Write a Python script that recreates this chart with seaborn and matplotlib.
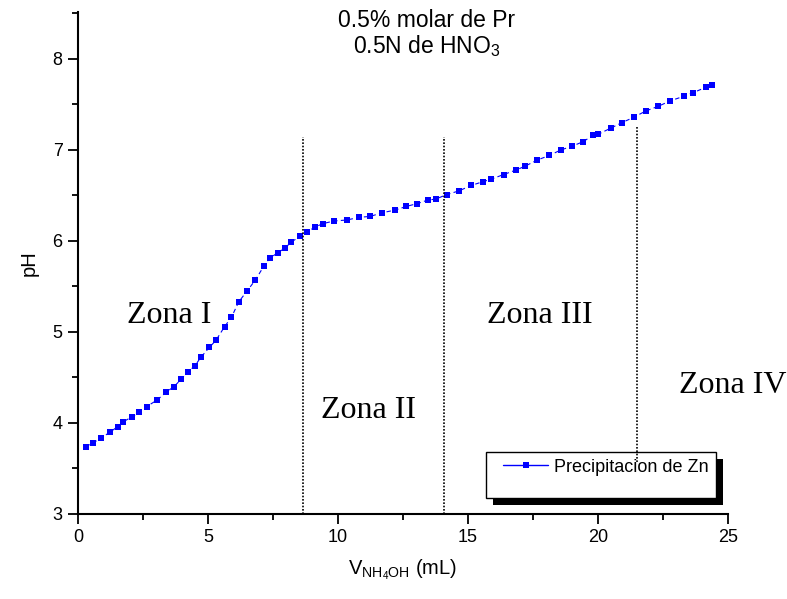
import matplotlib
matplotlib.use("Agg")
import matplotlib.pyplot as plt
from matplotlib.lines import Line2D
from matplotlib.patches import Rectangle
import seaborn as sns
import pandas as pd

# ---- data ----
volume_ml = [0.30, 0.56, 0.87, 1.23, 1.53, 1.72, 2.09, 2.36, 2.64, 3.03, 3.40, 3.69,
             3.97, 4.22, 4.50, 4.72, 5.05, 5.31, 5.64, 5.90, 6.18, 6.50, 6.82, 7.14,
             7.37, 7.68, 7.95, 8.21, 8.54, 8.82, 9.10, 9.41, 9.85, 10.33, 10.82, 11.24,
             11.70, 12.20, 12.63, 13.04, 13.46, 13.76, 14.18, 14.65, 15.12, 15.56, 15.90,
             16.37, 16.85, 17.18, 17.67, 18.13, 18.57, 18.99, 19.42, 19.81, 19.99, 20.49,
             20.92, 21.38, 21.85, 22.32, 22.78, 23.30, 23.67, 24.15, 24.40]
ph_values = [3.74, 3.78, 3.83, 3.90, 3.96, 4.01, 4.07, 4.12, 4.18, 4.25, 4.34, 4.40,
             4.48, 4.56, 4.63, 4.72, 4.83, 4.91, 5.06, 5.16, 5.33, 5.45, 5.57, 5.72,
             5.81, 5.87, 5.92, 5.99, 6.05, 6.10, 6.15, 6.19, 6.22, 6.23, 6.26, 6.27,
             6.31, 6.34, 6.38, 6.41, 6.45, 6.46, 6.51, 6.55, 6.61, 6.65, 6.68,
             6.73, 6.78, 6.82, 6.89, 6.94, 7.00, 7.04, 7.09, 7.16, 7.17, 7.24,
             7.30, 7.36, 7.43, 7.48, 7.54, 7.59, 7.63, 7.69, 7.71]
series_label = "Precipitacion de Zn"

zone_borders_x = [8.65, 14.08, 21.49]
zone_borders_bottom = [3.0, 3.0, 3.57]
zone_borders_top = [7.14, 7.14, 7.26]
zone_labels = ["Zona I", "Zona II", "Zona III", "Zona IV"]
zone_label_x = [3.52, 11.19, 17.77, 23.12]
zone_label_y = [5.10, 4.05, 5.10, 4.33]

x_ticks = [0, 5, 10, 15, 20, 25]
y_ticks = [3, 4, 5, 6, 7, 8]

df = pd.DataFrame({"V": volume_ml, "pH": ph_values})

# ---- figure ----
sns.set_style("ticks")
plt.rcParams["font.family"] = ["Liberation Sans", "DejaVu Sans"]
plt.rcParams["mathtext.fontset"] = "custom"
plt.rcParams["mathtext.rm"] = "Liberation Sans"
plt.rcParams["mathtext.it"] = "Liberation Sans"
for k in ["text.color", "axes.labelcolor", "xtick.color", "ytick.color", "axes.edgecolor"]:
    plt.rcParams[k] = "black"

fig = plt.figure(figsize=(7.87, 5.99), dpi=100)
ax = fig.add_axes([78 / 787, 1 - 514 / 599, (728 - 78) / 787, (514 - 12) / 599])

blue = "#0000ff"
sns.lineplot(data=df, x="V", y="pH", ax=ax, sort=False, color=blue,
             linestyle=(0, (4, 3)), linewidth=0.8, marker="s", markersize=4.6,
             markeredgewidth=0, markerfacecolor=blue, legend=False, zorder=2)

# legend box with black offset shadow (drawn below the dotted zone line)
ax.add_patch(Rectangle((493 / 787, 1 - 505 / 599), 230 / 787, 46 / 599,
                       transform=fig.transFigure, facecolor="black",
                       edgecolor="none", zorder=3, clip_on=False))
ax.add_patch(Rectangle((486 / 787, 1 - 498 / 599), 230 / 787, 46 / 599,
                       transform=fig.transFigure, facecolor="white",
                       edgecolor="black", linewidth=1.0, zorder=4, clip_on=False))

ax.vlines(zone_borders_x, zone_borders_bottom, zone_borders_top, colors="black",
          linestyles=[(0, (1, 1))], linewidth=1.2, zorder=5)

for lab, lx, ly in zip(zone_labels, zone_label_x, zone_label_y):
    ha = "left" if lab == "Zona IV" else "center"
    ax.text(lx, ly, lab, family=["Liberation Serif", "DejaVu Serif"], fontsize=23,
            ha=ha, va="baseline", clip_on=False)

ax.text(13.4, 8.355, "0.5% molar de Pr", fontsize=16.5, ha="center", va="baseline")
ax.text(13.4, 8.063, r"0.5N de HNO$_3$", fontsize=16.5, ha="center", va="baseline")

ax.set_xlim(0, 25)
ax.set_ylim(3, 8.516)
ax.set_xticks(x_ticks)
ax.set_yticks(y_ticks)
ax.set_xticks([2.5, 7.5, 12.5, 17.5, 22.5], minor=True)
ax.set_yticks([3.5, 4.5, 5.5, 6.5, 7.5, 8.5], minor=True)
ax.tick_params(which="major", length=7, width=1.3, labelsize=13, direction="out", pad=4)
ax.tick_params(which="minor", length=4, width=1.3, direction="out")
for s in ["top", "right"]:
    ax.spines[s].set_visible(False)
for s in ["left", "bottom"]:
    ax.spines[s].set_linewidth(1.5)

ax.set_xlabel(r"V$_{\mathregular{NH_4OH}}$ (mL)", fontsize=14.5, labelpad=8)
ax.set_ylabel("pH", fontsize=14.5, labelpad=10)

handle = Line2D([], [], color=blue, linewidth=1.0, marker="s", markersize=5,
                markeredgewidth=0)
leg = ax.legend([handle], [series_label], loc="center left",
                bbox_to_anchor=(503 / 787, 1 - 467 / 599),
                bbox_transform=fig.transFigure, frameon=False, fontsize=13,
                borderpad=0, borderaxespad=0, handlelength=2.5, handletextpad=0.3)
leg.set_zorder(6)

fig.savefig("out.png", dpi=100)
